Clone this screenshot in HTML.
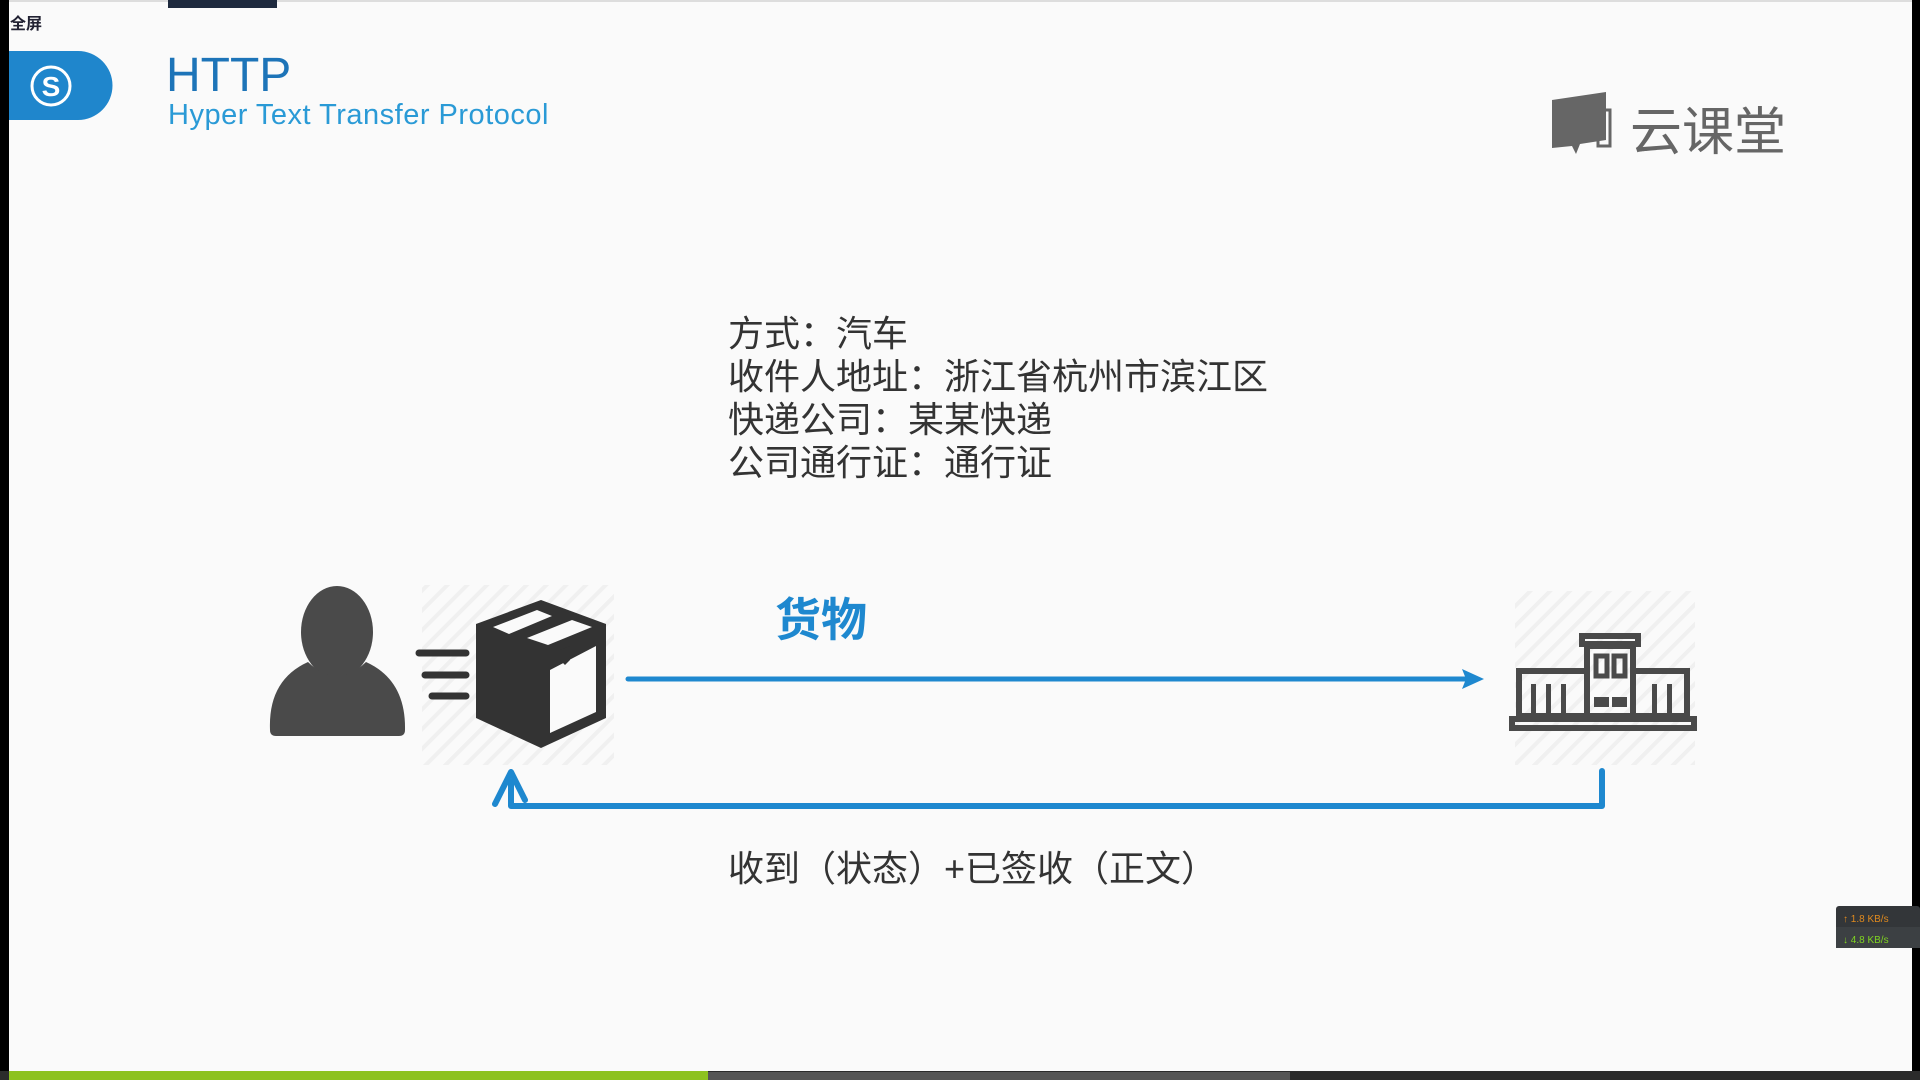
<!DOCTYPE html>
<html><head><meta charset="utf-8"><style>
html,body{margin:0;padding:0;width:1920px;height:1080px;overflow:hidden;background:#fafafa;}
.t{position:absolute;white-space:nowrap;font-family:"Liberation Sans","Noto Sans CJK SC",sans-serif;}
</style></head><body>
<svg width="1920" height="1080" style="position:absolute;left:0;top:0">
<defs>
<pattern id="h" width="14" height="14" patternUnits="userSpaceOnUse" patternTransform="rotate(45)">
<rect width="14" height="14" fill="#fafafa"/><rect width="4" height="14" fill="#f0f0f0"/></pattern>
</defs>
<rect x="0" y="0" width="1920" height="2" fill="#ddd"/>
<rect x="0" y="0" width="9" height="1080" fill="#000"/>
<rect x="1912" y="0" width="8" height="1080" fill="#000"/>
<rect x="168" y="0" width="109" height="8" fill="#1e2a3e"/>
<path d="M9 51 H78 A34.5 34.5 0 0 1 78 120 H9 Z" fill="#1f86cc"/>
<circle cx="51" cy="86" r="19" fill="none" stroke="#fff" stroke-width="3"/>
<text x="51" y="96" font-family="Liberation Sans" font-weight="bold" font-size="28" fill="#fff" text-anchor="middle">S</text>
<path d="M1552 100 L1606 92 V140 L1580 144 L1576 154 L1572 146 L1552 148 Z" fill="#666"/>
<rect x="1598" y="110" width="12" height="36" fill="none" stroke="#666" stroke-width="3"/>
<rect x="422" y="585" width="192" height="180" fill="url(#h)"/>
<rect x="1515" y="591" width="180" height="174" fill="url(#h)"/>
<ellipse cx="337" cy="632" rx="36" ry="46" fill="#4a4a4a"/>
<path d="M270 730 Q268 680 308 662 Q337 690 366 662 Q406 680 405 730 Q405 736 399 736 H276 Q270 736 270 730 Z" fill="#4a4a4a"/>
<g stroke="#333" stroke-width="7" stroke-linecap="round"><line x1="419" y1="653" x2="466" y2="653"/><line x1="425" y1="675" x2="466" y2="675"/><line x1="432" y1="696" x2="466" y2="696"/></g>
<path d="M476 624 L541 600 L606 624 L606 718 L541 748 L476 718 Z" fill="#333"/>
<path d="M550 670 L596 646 L596 712 L550 733 Z" fill="#fafafa"/>
<path d="M493 627 L537 610 L552 616 L509 634 Z M527 638 L572 620 L592 627 L548 645 Z" fill="#fafafa"/>
<path d="M560 650 L570 646 L570 660 L565 665 L560 660Z" fill="#333"/>
<g fill="none" stroke="#4a4a4a" stroke-width="6">
<rect x="1582" y="636" width="56" height="8"/>
<rect x="1587" y="646" width="46" height="70"/>
<rect x="1519" y="671" width="68" height="45"/>
<rect x="1633" y="671" width="54" height="45"/>
<rect x="1512" y="719" width="182" height="9"/>
</g>
<g fill="#4a4a4a"><rect x="1531" y="684" width="5" height="32"/><rect x="1546" y="684" width="5" height="32"/><rect x="1561" y="684" width="5" height="32"/><rect x="1652" y="684" width="5" height="32"/><rect x="1667" y="684" width="5" height="32"/></g>
<g fill="none" stroke="#4a4a4a" stroke-width="5"><rect x="1596" y="656" width="11" height="20"/><rect x="1614" y="656" width="11" height="20"/></g>
<g fill="#4a4a4a"><rect x="1594" y="697" width="15" height="10"/><rect x="1612" y="697" width="15" height="10"/></g>
<line x1="628" y1="679" x2="1472" y2="679" stroke="#1e88cf" stroke-width="5" stroke-linecap="round"/>
<path d="M1484 679 L1462 669 L1466 679 L1462 689 Z" fill="#1e88cf"/>
<path d="M1602 771 V806 H511 V782" fill="none" stroke="#1e88cf" stroke-width="6" stroke-linecap="round" stroke-linejoin="round"/>
<path d="M511 772 L495 804 M511 772 L525 800" stroke="#1e88cf" stroke-width="6" stroke-linecap="round" fill="none"/>
<rect x="1836" y="906" width="84" height="42" rx="3" fill="#333639"/>
<rect x="1836" y="927" width="84" height="21" fill="#3c4043"/>
<text x="1843" y="922" font-family="Liberation Sans" font-size="10" fill="#e08a1e">↑ 1.8 KB/s</text>
<text x="1843" y="943" font-family="Liberation Sans" font-size="10" fill="#7fd321">↓ 4.8 KB/s</text>
<rect x="0" y="1071" width="1920" height="9" fill="#2b2b2b"/>
<rect x="9" y="1071" width="699" height="9" fill="#8dc21f"/>
<rect x="708" y="1072" width="582" height="8" fill="#555"/>
</svg>
<div class="t" style="left:10px;top:10px;font-size:16px;font-weight:bold;color:#223;">全屏</div>
<div class="t" style="left:166px;top:48px;font-size:48px;color:#1d74b8;">HTTP</div>
<div class="t" style="left:168px;top:99px;font-size:29px;color:#2a9ad6;letter-spacing:0.5px;">Hyper Text Transfer Protocol</div>
<div class="t" style="left:1630px;top:90px;font-size:52px;color:#666;">云课堂</div>
<div class="t" style="left:728px;top:312px;font-size:36px;line-height:43px;color:#333;">方式：汽车<br>收件人地址：浙江省杭州市滨江区<br>快递公司：某某快递<br>公司通行证：通行证</div>
<div class="t" style="left:775px;top:584px;font-size:46px;font-weight:bold;color:#1e88cf;">货物</div>
<div class="t" style="left:728px;top:840px;font-size:36px;color:#333;">收到（状态）+已签收（正文）</div>
</body></html>
